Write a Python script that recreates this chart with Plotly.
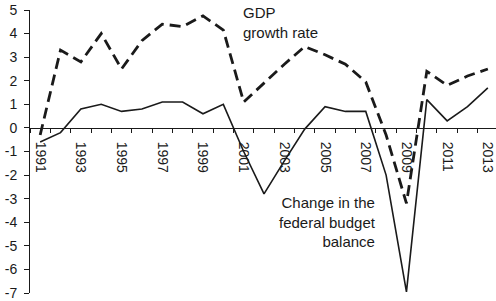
import plotly.graph_objects as go

years = list(range(1991, 2014))
gdp_growth = [-0.3, 3.3, 2.8, 4.0, 2.5, 3.7, 4.4, 4.3, 4.75, 4.15, 1.1, 1.9, 2.7,
              3.45, 3.1, 2.7, 1.95, -0.3, -3.2, 2.4, 1.8, 2.2, 2.5]
budget_change = [-0.6, -0.2, 0.8, 1.0, 0.7, 0.8, 1.1, 1.1, 0.6, 1.0, -1.0, -2.8, -1.4,
                 -0.05, 0.9, 0.7, 0.7, -2.0, -6.95, 1.2, 0.3, 0.9, 1.7]
x_tick_years = list(range(1991, 2014, 2))
x_tick_labels = [str(y) for y in x_tick_years]
y_tick_vals = list(range(-7, 6))
y_tick_labels = [str(v) for v in y_tick_vals]
x_minor_ticks = [y - 0.5 for y in range(1991, 2015)]

ink = "#1a1a1a"
font_family = "Liberation Sans, Arial, sans-serif"

fig = go.Figure()
fig.add_trace(go.Scatter(x=years, y=gdp_growth, mode="lines",
                         line=dict(color=ink, width=2.8, dash="11px,6px"),
                         name="GDP growth rate"))
fig.add_trace(go.Scatter(x=years, y=budget_change, mode="lines",
                         line=dict(color=ink, width=1.6),
                         name="Change in the federal budget balance"))

fig.add_annotation(x=2000.85, y=1.03, xref="x", yref="paper",
                   text="GDP<br>growth rate", showarrow=False,
                   xanchor="left", yanchor="top", align="left",
                   font=dict(size=15, color=ink, family=font_family))
fig.add_annotation(x=2007.6, y=-2.72, xref="x", yref="y",
                   text="Change in the<br>federal budget<br>balance", showarrow=False,
                   xanchor="right", yanchor="top", align="right",
                   font=dict(size=15, color=ink, family=font_family))

fig.update_layout(
    template="none",
    width=496, height=301,
    margin=dict(l=30, r=0, t=10, b=8, autoexpand=False),
    paper_bgcolor="white", plot_bgcolor="white",
    showlegend=False,
    font=dict(family=font_family, size=14, color=ink),
    xaxis=dict(range=[1990.5, 2013.4], anchor="free", position=7/12, automargin=False,
               showgrid=False, zeroline=False, showline=True, linecolor=ink, linewidth=1,
               tickmode="array", tickvals=x_tick_years, ticktext=x_tick_labels,
               ticks="", tickangle=90, ticklabelstandoff=10, ticklabeloverflow="allow",
               tickfont=dict(size=14, color=ink),
               minor=dict(tickmode="array", tickvals=x_minor_ticks, ticks="outside",
                          ticklen=4, tickcolor=ink, tickwidth=1, showgrid=False)),
    yaxis=dict(range=[-7, 5], domain=[0, 1], automargin=False,
               showgrid=False, zeroline=False, showline=True, linecolor=ink, linewidth=1,
               tickmode="array", tickvals=y_tick_vals, ticktext=y_tick_labels,
               ticks="outside", ticklen=5, tickcolor=ink, ticklabelstandoff=4,
               tickfont=dict(size=14, color=ink)),
)

fig.write_html("out.html", config={"displayModeBar": False},
               post_script="document.body.style.margin='0';document.body.style.overflow='hidden';")
